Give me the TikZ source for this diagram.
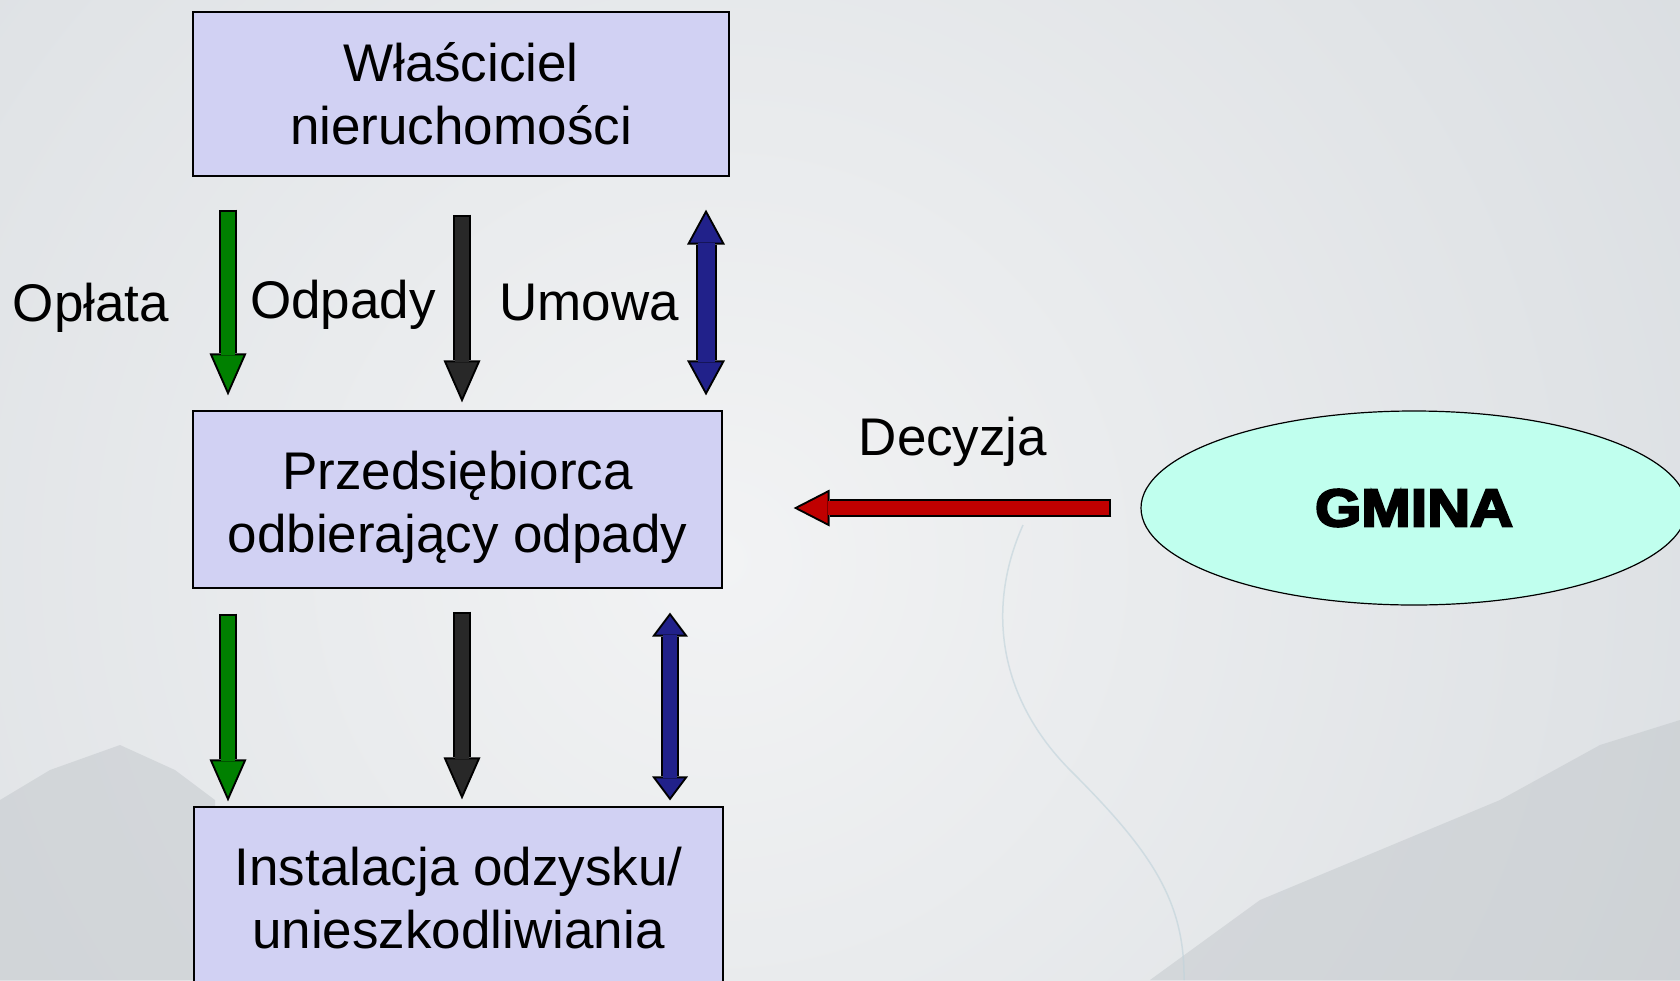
\documentclass[tikz,border=0pt]{standalone}
\usepackage{fontspec}
\setmainfont{Liberation Sans}
\newfontfamily\heavyfont[FakeBold=4]{Liberation Sans Bold}
\usetikzlibrary{arrows.meta, shapes.geometric}

\definecolor{boxfill}{RGB}{209,209,243}
\definecolor{gminafill}{RGB}{192,255,238}
\definecolor{oplgreen}{RGB}{0,128,0}
\definecolor{odpblack}{RGB}{40,40,40}
\definecolor{umblue}{RGB}{33,33,138}
\definecolor{decred}{RGB}{192,0,0}
\definecolor{skylight}{RGB}{242,243,244}
\definecolor{skygray}{RGB}{216,220,224}
\definecolor{rock}{RGB}{190,195,199}

\tikzset{
  fatarrow/.code n args={4}{% colour, shaft, head width, head length
    \pgfmathsetmacro\fatshaft{#2-4}%
    \pgfmathsetmacro\fatinset{2*sqrt(1+(2*#4/#3)^2)}%
    \pgfmathsetmacro\fatlen{#4-2-\fatinset}%
    \pgfmathsetmacro\fatwid{#3*\fatlen/#4}%
    \tikzset{draw=#1, line width=\fatshaft pt,
      -{Triangle[length=\fatlen pt, width=\fatwid pt, line width=0pt]},
      shorten >=\fatinset pt, shorten <=2pt,
      preaction={draw=black, line width=#2pt,
        -{Triangle[length=#4pt, width=#3pt, line width=0pt]},
        shorten >=0pt, shorten <=0pt}}%
  },
  fatdarrow/.code n args={4}{%
    \pgfmathsetmacro\fatshaft{#2-4}%
    \pgfmathsetmacro\fatinset{2*sqrt(1+(2*#4/#3)^2)}%
    \pgfmathsetmacro\fatlen{#4-2-\fatinset}%
    \pgfmathsetmacro\fatwid{#3*\fatlen/#4}%
    \tikzset{draw=#1, line width=\fatshaft pt,
      {Triangle[length=\fatlen pt, width=\fatwid pt, line width=0pt]}-{Triangle[length=\fatlen pt, width=\fatwid pt, line width=0pt]},
      shorten >=\fatinset pt, shorten <=\fatinset pt,
      preaction={draw=black, line width=#2pt,
        {Triangle[length=#4pt, width=#3pt, line width=0pt]}-{Triangle[length=#4pt, width=#3pt, line width=0pt]},
        shorten >=0pt, shorten <=0pt}}%
  },
}

\begin{document}
\begin{tikzpicture}[x=1pt, y=-1pt,
                    box/.style={draw, line width=1.2pt, fill=boxfill, align=center,
                                inner sep=0pt, font=\fontsize{53}{63}\selectfont},
                    lbl/.style={inner sep=0pt, font=\fontsize{53}{63}\selectfont}]

	\useasboundingbox (0,0) rectangle (1680,980);
	\clip (0,0) rectangle (1680,980);
	\shade[inner color=skylight, outer color=skygray] (720,560) circle (1250pt);
	\fill[rock, opacity=.45] (0,800) -- (50,770) -- (120,745) -- (175,770) -- (215,800)
		-- (215,980) -- (0,980) -- cycle;
	\fill[rock, opacity=.45] (1150,980) -- (1260,900) -- (1380,850) -- (1500,800)
		-- (1600,745) -- (1680,720) -- (1680,980) -- cycle;
	\draw[line width=1.5pt, cyan!30!gray!45, opacity=.6] (1023,525) .. controls (985,610) and (1000,700) .. (1071,771)
		.. controls (1150,850) and (1185,900) .. (1184,980);

	\node[box, minimum width=536pt, minimum height=164pt] (wl) at (461,94) {Właściciel\\nieruchomości};
	\node[box, minimum width=529pt, minimum height=177pt] (pr) at (457.5,499.5) {\rule{0pt}{55pt}Przedsiębiorca\\odbierający odpady};
	\node[box, minimum width=529pt, minimum height=182pt] (in) at (458.5,898) {Instalacja odzysku/\\unieszkodliwiania};
	\node[ellipse, draw, line width=1.2pt, fill=gminafill, minimum width=546pt, minimum height=194pt,
	      inner sep=0pt] (gm) at (1414,508) {\fontsize{53}{63}\heavyfont\scalebox{1.12}[1]{GMINA}};

	\node[lbl] (opl) at (91,308) {Opłata};
	\node[lbl] (odp) at (343,305) {Odpady};
	\node[lbl] (umo) at (589,303) {Umowa};
	\node[lbl] (dec) at (953,442) {Decyzja};

	\coordinate (gx) at (228,0);
	\coordinate (kx) at (462,0);
	\coordinate (ux) at (706,0);
	\coordinate (lx) at (670,0);

	\draw[fatarrow={oplgreen}{18}{37}{42}] ([yshift=-33pt]wl.south -| gx) -- ([yshift=15pt]pr.north -| gx);
	\draw[fatarrow={odpblack}{18}{37}{42}] ([yshift=-38pt]wl.south -| kx) -- ([yshift=8pt]pr.north -| kx);
	\draw[fatdarrow={umblue}{21}{38}{35}] ([yshift=-33pt]wl.south -| ux) -- ([yshift=15pt]pr.north -| ux);

	\draw[fatarrow={oplgreen}{18}{37}{42}] ([yshift=-25pt]pr.south -| gx) -- ([yshift=5pt]in.north -| gx);
	\draw[fatarrow={odpblack}{18}{37}{42}] ([yshift=-23pt]pr.south -| kx) -- ([yshift=7pt]in.north -| kx);
	\draw[fatdarrow={umblue}{18}{36}{24}] ([yshift=-24pt]pr.south -| lx) -- ([yshift=6pt]in.north -| lx);

	\draw[fatarrow={decred}{18}{37}{36}] ([xshift=-29pt]gm.west) -- ([xshift=71pt]gm.west -| pr.east);
\end{tikzpicture}
\end{document}
